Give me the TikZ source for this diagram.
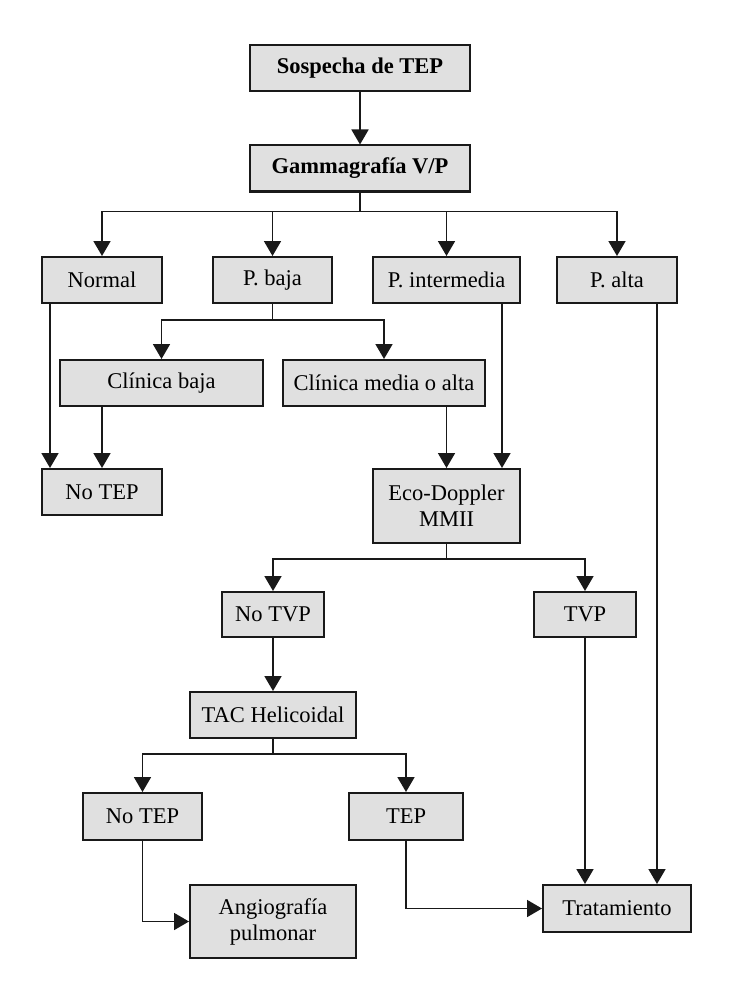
\documentclass[tikz,border=0pt]{standalone}
\usepackage{fontspec}
\setmainfont{Liberation Serif}
\usetikzlibrary{arrows.meta}
\begin{document}
\begin{tikzpicture}[x=1pt,y=-1pt,
  box/.style={draw=black!90,line width=2pt,fill=black!12,inner sep=0pt,align=center,
    font=\fontsize{22.5}{26}\selectfont},
  bbox/.style={box,font=\fontsize{22.5}{26}\selectfont\bfseries},
  conn/.style={line width=1.8pt,draw=black!90},
  arr/.style={conn,-{Triangle[width=17pt,length=15pt]}}]
\useasboundingbox (0,0) rectangle (730,1003);
\node[bbox,minimum width=220pt,minimum height=46pt] (sos) at (360,68) {Sospecha de TEP};
\node[bbox,minimum width=220pt,minimum height=46pt] (gam) at (360,168.5) {Gammagrafía V/P};
\node[box,minimum width=120pt,minimum height=46pt] (normal) at (102,280) {Normal};
\node[box,minimum width=119pt,minimum height=46pt] (pbaja) at (272.5,280) {P. baja};
\node[box,minimum width=147pt,minimum height=46pt] (pint) at (446.5,280) {P. intermedia};
\node[box,minimum width=120pt,minimum height=46pt] (palta) at (617,280) {P. alta};
\node[box,minimum width=203pt,minimum height=46pt] (cbaja) at (161.5,383) {Clínica baja};
\node[box,minimum width=202pt,minimum height=46pt] (cmedia) at (384,383) {Clínica media o alta};
\node[box,minimum width=120pt,minimum height=46pt] (notep) at (102,492) {No TEP};
\node[box,minimum width=147pt,minimum height=74pt] (eco) at (446.5,506) {Eco-Doppler\\MMII};
\node[box,minimum width=102pt,minimum height=45pt] (notvp) at (273,614.5) {No TVP};
\node[box,minimum width=102pt,minimum height=45pt] (tvp) at (585,614.5) {TVP};
\node[box,minimum width=166pt,minimum height=46pt] (tac) at (273,715) {TAC Helicoidal};
\node[box,minimum width=119pt,minimum height=47pt] (notepb) at (142.5,816.5) {No TEP};
\node[box,minimum width=114pt,minimum height=47pt] (tep) at (406,816.5) {TEP};
\node[box,minimum width=166pt,minimum height=73pt] (angio) at (273,921.5) {Angiografía\\pulmonar};
\node[box,minimum width=148pt,minimum height=47pt] (trat) at (617,908.5) {Tratamiento};
% top
\draw[arr] (sos.south) -- (gam.north);
\draw[conn] (gam.south) -- ++(0,19) coordinate (b1);
\draw[arr] (b1) -| (normal.north);
\draw[arr] (b1) -| (pbaja.north);
\draw[arr] (b1) -| (pint.north);
\draw[arr] (b1) -| (palta.north);
% P. baja branch
\draw[conn] (pbaja.south) -- ++(0,16) coordinate (b2);
\draw[arr] (b2) -| (cbaja.north);
\draw[arr] (b2) -| (cmedia.north);
% to No TEP
\draw[arr] ([xshift=9pt]normal.south west) -- ([xshift=9pt]notep.north west);
\draw[arr] (cbaja.south -| notep.north) -- (notep.north);
% to Eco
\draw[arr] (cmedia.south -| eco.north) -- (eco.north);
\draw[arr] ([xshift=-19pt]pint.south east) -- ([xshift=-19pt]eco.north east);
% P. alta to Tratamiento
\draw[arr] ([xshift=40pt]palta.south) -- ([xshift=40pt]palta.south |- trat.north);
% Eco branch
\draw[conn] (eco.south) -- ++(0,15) coordinate (b3);
\draw[arr] (b3) -| (notvp.north);
\draw[arr] (b3) -| (tvp.north);
\draw[arr] (tvp.south) -- (tvp.south |- trat.north);
\draw[arr] (notvp.south) -- (tac.north);
% TAC branch
\draw[conn] (tac.south) -- ++(0,15) coordinate (b4);
\draw[arr] (b4) -| (notepb.north);
\draw[arr] (b4) -| (tep.north);
\draw[arr] (notepb.south) |- (angio.west);
\draw[arr] (tep.south) |- (trat.west);
\end{tikzpicture}
\end{document}
